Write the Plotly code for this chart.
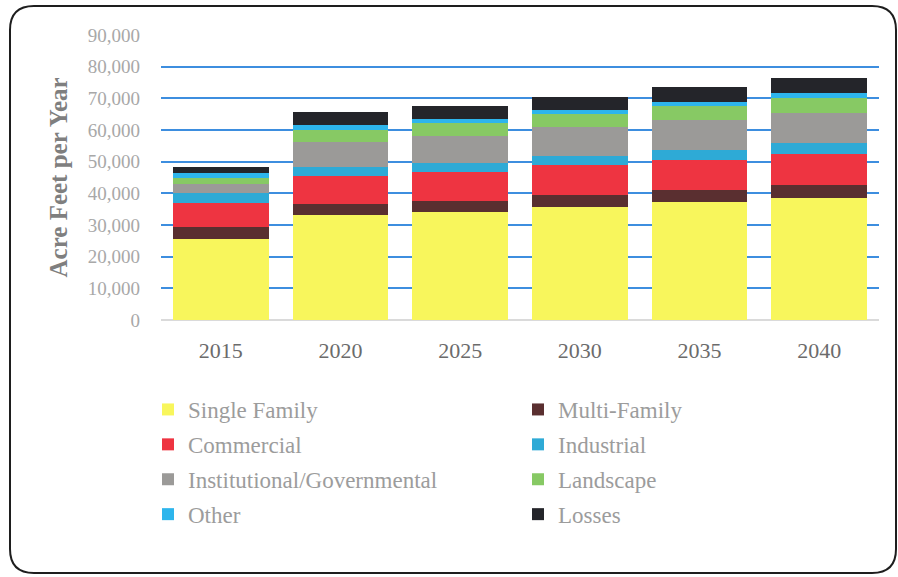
import plotly.graph_objects as go

# Projected water demand by customer class (acre-feet per year)
years = ["2015", "2020", "2025", "2030", "2035", "2040"]

single_family = [25500, 33200, 34200, 35800, 37200, 38400]
multi_family = [4000, 3400, 3400, 3700, 3800, 4200]
commercial = [7500, 8800, 9100, 9400, 9500, 9900]
industrial = [3000, 3000, 3000, 3000, 3200, 3300]
institutional = [2900, 7900, 8500, 8900, 9400, 9600]
landscape = [2100, 3700, 4100, 4200, 4500, 4600]
other = [1400, 1500, 1200, 1400, 1400, 1600]
losses = [1900, 4100, 4200, 4100, 4500, 4700]

y_ticks = [0, 10000, 20000, 30000, 40000, 50000, 60000, 70000, 80000, 90000]

series = [
    ("Single Family", single_family, "#F8F65C", "legend"),
    ("Multi-Family", multi_family, "#5A2F30", "legend2"),
    ("Commercial", commercial, "#EE3441", "legend"),
    ("Industrial", industrial, "#2EAAD6", "legend2"),
    ("Institutional/Governmental", institutional, "#9B9A98", "legend"),
    ("Landscape", landscape, "#87C964", "legend2"),
    ("Other", other, "#2DB5EC", "legend"),
    ("Losses", losses, "#24252A", "legend2"),
]

W, H = 898, 577
ML, MR, MT, MB = 161, 19, 35, 257
PW, PH = W - ML - MR, H - MT - MB


def px_x(px):
    return (px - ML) / PW


def px_y(py):
    return (H - MB - py) / PH


fig = go.Figure()
for name, vals, color, leg in series:
    fig.add_trace(go.Bar(
        x=years, y=vals, name=name, legend=leg, legendgroup=name,
        marker=dict(color=color, line=dict(width=0)),
    ))

serif = "Liberation Serif, Times New Roman, serif"

# rounded outer frame
x0, y0, x1, y1, r = 10, 6, 896, 573, 24
path = (
    f"M {px_x(x0 + r)},{px_y(y0)} L {px_x(x1 - r)},{px_y(y0)} "
    f"Q {px_x(x1)},{px_y(y0)} {px_x(x1)},{px_y(y0 + r)} "
    f"L {px_x(x1)},{px_y(y1 - r)} "
    f"Q {px_x(x1)},{px_y(y1)} {px_x(x1 - r)},{px_y(y1)} "
    f"L {px_x(x0 + r)},{px_y(y1)} "
    f"Q {px_x(x0)},{px_y(y1)} {px_x(x0)},{px_y(y1 - r)} "
    f"L {px_x(x0)},{px_y(y0 + r)} "
    f"Q {px_x(x0)},{px_y(y0)} {px_x(x0 + r)},{px_y(y0)} Z"
)

legend_common = dict(
    orientation="v", traceorder="grouped", tracegroupgap=2,
    font=dict(family=serif, size=23, color="#9C9C9C"),
    bgcolor="rgba(0,0,0,0)", xanchor="left", yanchor="top",
    itemclick=False, itemdoubleclick=False,
)

fig.update_layout(
    width=W, height=H,
    margin=dict(l=ML, r=MR, t=MT, b=MB, autoexpand=False),
    paper_bgcolor="white", plot_bgcolor="white",
    barmode="stack", bargap=0.2,
    showlegend=True,
    legend=dict(x=px_x(148), y=px_y(388), **legend_common),
    legend2=dict(x=px_x(518), y=px_y(388), **legend_common),
    xaxis=dict(
        showgrid=False, showline=False, ticks="",
        tickfont=dict(family=serif, size=22, color="#6B6B6B"),
        ticklabelstandoff=15,
    ),
    yaxis=dict(
        range=[0, 90000], tickvals=y_ticks, tickformat=",d",
        showgrid=True, gridcolor="#3D8EDF", gridwidth=1.5,
        zeroline=True, zerolinecolor="#DADADA", zerolinewidth=1.5,
        showline=False, ticks="",
        tickfont=dict(family=serif, size=19, color="#A8A8A8"),
        ticklabelstandoff=20,
    ),
    shapes=[dict(type="path", xref="paper", yref="paper", path=path,
                 line=dict(color="#1E1E1E", width=2), layer="above")],
    annotations=[dict(
        text="<b>Acre Feet per Year</b>", xref="paper", yref="paper",
        x=px_x(58), y=0.5, textangle=-90, showarrow=False,
        xanchor="center", yanchor="middle",
        font=dict(family=serif, size=25, color="#7F7F7F"),
    )],
)

fig.write_html("out.html")
